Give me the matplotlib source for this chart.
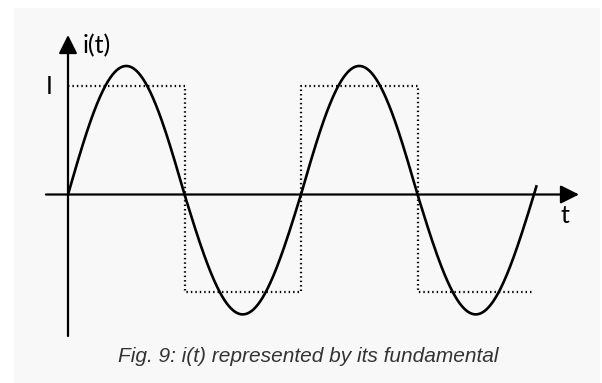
import matplotlib.pyplot as plt
import numpy as np
from matplotlib.patches import Rectangle

# time in half-periods of the fundamental, current in units of I
square_t = [0, 1, 1, 2, 2, 3, 3, 3.98]
square_i = [1, 1, -0.9, -0.9, 1, 1, -0.9, -0.9]

fund_amp_pos = 1.19   # drawn peak of the fundamental
fund_amp_neg = 1.11   # drawn trough of the fundamental
t_end = 4.02

# pixel scale of the original drawing
px_per_t = 116.5
px_per_i = 108.0
x0_px, y0_px = 68.0, 194.5
W, H = 602, 383

fig = plt.figure(figsize=(W / 100, H / 100), dpi=100)
fig.patch.set_facecolor("white")
ax = fig.add_axes([0, 0, 1, 1])
ax.set_xlim(-x0_px / px_per_t, (W - x0_px) / px_per_t)
ax.set_ylim(-(H - y0_px) / px_per_i, y0_px / px_per_i)
ax.axis("off")

# light grey panel behind the drawing
ax.add_patch(Rectangle((14 / W, 0), 586 / W, 375 / H, transform=ax.transAxes,
                       facecolor="#f8f8f8", edgecolor="none", zorder=0))

# axes with arrows
arrow = dict(arrowstyle="-|>,head_length=0.8,head_width=0.4", mutation_scale=14,
             lw=1.6, color="black", shrinkA=0, shrinkB=0)
ax.annotate("", xy=((579 - x0_px) / px_per_t, 0), xytext=((46 - x0_px) / px_per_t, 0),
            arrowprops=arrow)
ax.annotate("", xy=(0, (y0_px - 35) / px_per_i), xytext=(0, (y0_px - 336) / px_per_i),
            arrowprops=arrow)

# square wave
ax.plot(square_t, square_i, color="black", lw=1.6, linestyle=(0, (0.65, 1.35)))

# fundamental
t = np.linspace(0, t_end, 600)
s = np.sin(np.pi * t)
i_fund = np.where(s >= 0, fund_amp_pos * s, fund_amp_neg * s)
ax.plot(t, i_fund, color="black", lw=1.9)

lab = dict(family="Lato", fontsize=18, color="black")
ax.text(0.129, 1.375, "i(t)", ha="left", va="center", **lab)
ax.text(-0.163, 1.0, "I", ha="center", va="center", **lab)
ax.text(4.266, -0.199, "t", ha="center", va="center", **lab)

ax.text((308 - x0_px) / px_per_t, (y0_px - 357) / px_per_i,
        "Fig. 9: i(t) represented by its fundamental", ha="center", va="center",
        family="Liberation Sans", style="italic", fontsize=15, color="#333333")

fig.savefig("out.png", dpi=100)
